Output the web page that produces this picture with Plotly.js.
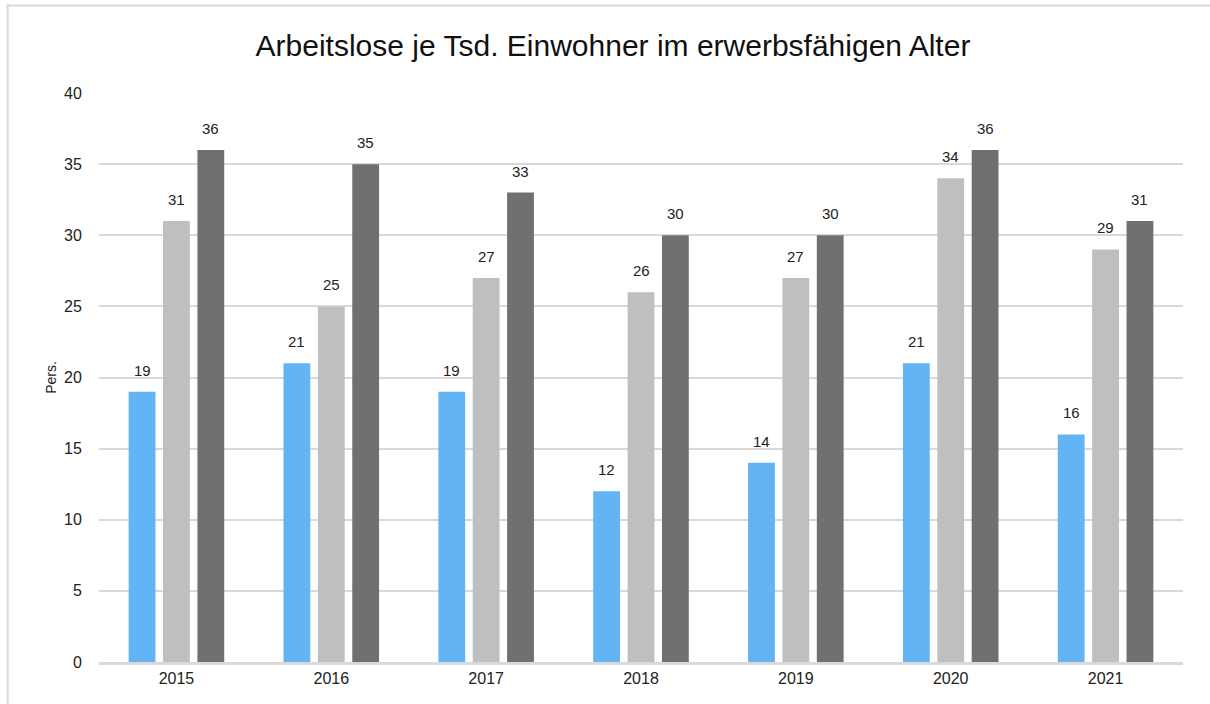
<!DOCTYPE html>
<html>
<head>
<meta charset="utf-8">
<script src="https://cdn.plot.ly/plotly-3.0.1.min.js"></script>
<style>
  html, body { margin: 0; padding: 0; background: #fff; }
  #chart { width: 1210px; height: 704px; }
</style>
</head>
<body>
<div id="chart"></div>
<script>
// Arbeitslose je Tsd. Einwohner im erwerbsfähigen Alter, 2015-2021

const years   = ['2015', '2016', '2017', '2018', '2019', '2020', '2021'];
const series1 = [19, 21, 19, 12, 14, 21, 16];
const series2 = [31, 25, 27, 26, 27, 34, 29];
const series3 = [36, 35, 33, 30, 30, 36, 31];
const seriesNames  = ['Reihe 1', 'Reihe 2', 'Reihe 3'];
const seriesColors = ['#63b4f5', '#bfbfbf', '#707070'];
const yTicks = [0, 5, 10, 15, 20, 25, 30, 35, 40];

const font = 'Liberation Sans, Arial, sans-serif';
const allSeries = [series1, series2, series3];

// plot geometry (px) used to shift the value labels onto their bars
const plotLeft = 99, plotRight = 27;
const plotW = 1210 - plotLeft - plotRight;
const bargap = 0.334;
const slotPx = plotW / years.length * (1 - bargap) / allSeries.length;

const traces = allSeries.map((vals, i) => ({
  type: 'bar',
  name: seriesNames[i],
  x: years,
  y: vals,
  marker: { color: seriesColors[i] },
  hoverinfo: 'x+y+name'
}));

// value labels above the bars (x = category index on the category axis)
const annotations = [];
allSeries.forEach((vals, i) => {
  vals.forEach((v, j) => {
    annotations.push({
      x: j, y: v,
      xref: 'x', yref: 'y',
      text: String(v),
      showarrow: false,
      xanchor: 'center', yanchor: 'bottom',
      xshift: (i - 1) * slotPx,
      yshift: 11,
      font: { family: font, size: 15, color: '#222' }
    });
  });
});

const layout = {
  width: 1210,
  height: 704,
  paper_bgcolor: '#fff',
  plot_bgcolor: '#fff',
  margin: { l: plotLeft, r: plotRight, t: 93, b: 42 },
  barmode: 'group',
  bargap: bargap,
  bargroupgap: 0.22,
  showlegend: false,
  font: { family: font, size: 16, color: '#222' },
  title: {
    text: 'Arbeitslose je Tsd. Einwohner im erwerbsfähigen Alter',
    font: { family: font, size: 30, color: '#111' },
    xref: 'container', x: 0.5066, xanchor: 'center',
    yref: 'container', y: 0.936, yanchor: 'middle'
  },
  xaxis: {
    type: 'category',
    categoryarray: years,
    categoryorder: 'array',
    range: [-0.5, years.length - 0.5],
    showgrid: false,
    showline: true,
    linecolor: '#d9d9d9',
    linewidth: 2.5,
    ticks: '',
    tickfont: { family: font, size: 16, color: '#222' },
    fixedrange: true
  },
  yaxis: {
    range: [0, 40],
    tickvals: yTicks,
    showgrid: true,
    gridcolor: '#d9d9d9',
    gridwidth: 2,
    zeroline: false,
    showline: false,
    ticks: 'outside',
    ticklen: 13,
    tickcolor: '#fff',
    tickfont: { family: font, size: 16, color: '#222' },
    title: {
      text: 'Pers.',
      font: { family: font, size: 14, color: '#222' },
      standoff: 4
    },
    fixedrange: true
  },
  annotations: annotations,
  shapes: [{
    type: 'rect',
    xref: 'paper', yref: 'paper',
    x0: -0.0843, x1: 1.1,
    y0: -0.2, y1: 1.1538,
    line: { color: '#d9d9d9', width: 2 },
    fillcolor: 'rgba(0,0,0,0)',
    layer: 'below'
  }]
};

Plotly.newPlot('chart', traces, layout, { displayModeBar: false, staticPlot: true });
</script>
</body>
</html>
